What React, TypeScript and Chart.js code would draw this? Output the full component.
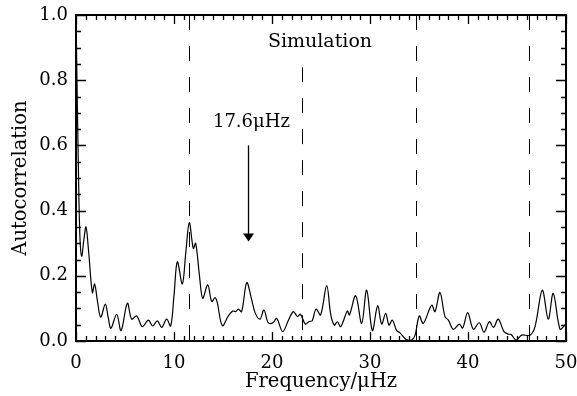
import React, { useEffect, useRef } from "react";
import { Chart, registerables } from "chart.js";

Chart.register(...registerables);

const freqs = [
  0, 0.1, 0.25, 0.4, 0.58, 0.8, 1.02, 1.3, 1.67, 1.9, 2.2, 2.52, 2.99, 3.3, 3.57, 4.15, 4.6, 5.24, 5.68, 6.19,
  6.77, 7.38, 7.82, 8.3, 8.74, 9.25, 9.66, 10.0, 10.34, 10.85, 11.2, 11.56, 11.97, 12.21, 12.6, 12.93, 13.44,
  13.85, 14.18, 14.4, 14.93, 15.55, 15.99, 16.3, 16.56, 16.9, 17.42, 17.9, 18.27, 18.78, 19.18, 19.62, 20.1,
  20.48, 21.09, 21.7, 22.18, 22.6, 22.9, 23.4, 23.8, 24.1, 24.5, 24.96, 25.58, 26.0, 26.36, 26.67, 27.01,
  27.69, 27.9, 28.54, 29.15, 29.66, 30.24, 30.78, 31.19, 31.6, 31.94, 32.28, 32.72, 33.06, 33.67, 34.25, 34.6,
  35.03, 35.44, 36.29, 36.63, 37.14, 37.65, 38.0, 38.5, 39.12, 39.46, 39.97, 40.54, 41.15, 41.63, 42.18, 42.6,
  43.09, 43.67, 44.12, 44.4, 44.9, 45.48, 46.33, 46.84, 47.58, 48.19, 48.7, 49.39, 49.9, 50,
];
const autocorr = [
  1.0, 0.8, 0.52, 0.32, 0.26, 0.31, 0.35, 0.27, 0.148, 0.175, 0.12, 0.073, 0.113, 0.07, 0.039, 0.082, 0.032,
  0.116, 0.067, 0.077, 0.044, 0.064, 0.046, 0.062, 0.042, 0.067, 0.046, 0.14, 0.243, 0.175, 0.27, 0.363, 0.284,
  0.3, 0.2, 0.131, 0.172, 0.121, 0.133, 0.12, 0.047, 0.077, 0.092, 0.09, 0.098, 0.09, 0.179, 0.13, 0.087, 0.067,
  0.095, 0.056, 0.056, 0.069, 0.029, 0.065, 0.09, 0.075, 0.082, 0.052, 0.06, 0.062, 0.098, 0.08, 0.17, 0.08,
  0.049, 0.059, 0.044, 0.092, 0.08, 0.139, 0.054, 0.156, 0.032, 0.108, 0.052, 0.085, 0.049, 0.064, 0.032,
  0.025, 0.005, 0.003, 0.018, 0.077, 0.054, 0.11, 0.09, 0.149, 0.075, 0.064, 0.036, 0.052, 0.04, 0.087, 0.036,
  0.056, 0.027, 0.059, 0.042, 0.067, 0.029, 0.021, 0.02, 0.003, 0.018, 0.018, 0.044, 0.156, 0.067, 0.146,
  0.036, 0.049, 0.05,
];

const dashedFreqs = [11.55, 23.1, 34.65, 46.2];
const dashedTops = [1.0, 0.84, 1.0, 1.0];

const arrowFreq = 17.6;
const arrowFrom = 0.6;
const arrowTo = 0.305;
const arrowLabel = "17.6\u03bcHz";
const arrowLabelPos = [17.9, 0.672];
const simLabel = "Simulation";
const simLabelPos = [24.9, 0.917];

const xTitle = "Frequency/\u03bcHz";
const yTitle = "Autocorrelation";

const FONT = "'DejaVu Serif', serif";

const overlayPlugin = {
  id: "overlay",
  afterDatasetsDraw(chart: any) {
    const { ctx, chartArea: a, scales } = chart;
    const xs = scales.x;
    const ys = scales.y;
    ctx.save();
    // dashed lines
    ctx.strokeStyle = "#000";
    ctx.lineWidth = 1;
    ctx.setLineDash([15, 16]);
    dashedFreqs.forEach((f, i) => {
      const px = Math.round(xs.getPixelForValue(f)) + 0.5;
      ctx.beginPath();
      ctx.moveTo(px, ys.getPixelForValue(dashedTops[i]));
      ctx.lineTo(px, ys.getPixelForValue(0));
      ctx.stroke();
    });
    ctx.setLineDash([]);

    // arrow
    const ax = Math.round(xs.getPixelForValue(arrowFreq)) + 0.5;
    const ay0 = ys.getPixelForValue(arrowFrom);
    const ay1 = ys.getPixelForValue(arrowTo);
    ctx.lineWidth = 1.3;
    ctx.beginPath();
    ctx.moveTo(ax, ay0);
    ctx.lineTo(ax, ay1 - 6);
    ctx.stroke();
    ctx.fillStyle = "#000";
    ctx.beginPath();
    ctx.moveTo(ax - 5.5, ay1 - 8);
    ctx.lineTo(ax + 5.5, ay1 - 8);
    ctx.lineTo(ax, ay1);
    ctx.closePath();
    ctx.fill();

    // labels
    ctx.font = `18px ${FONT}`;
    ctx.textAlign = "center";
    ctx.textBaseline = "middle";
    ctx.fillText(arrowLabel, xs.getPixelForValue(arrowLabelPos[0]), ys.getPixelForValue(arrowLabelPos[1]));
    ctx.font = `19px ${FONT}`;
    ctx.fillText(simLabel, xs.getPixelForValue(simLabelPos[0]), ys.getPixelForValue(simLabelPos[1]));

    // frame
    ctx.lineWidth = 2;
    ctx.strokeRect(a.left, a.top, a.right - a.left, a.bottom - a.top);

    // inward ticks on all four sides
    ctx.lineWidth = 1.3;
    const xMaj = 10, xMin = 1;
    for (let v = xs.min; v <= xs.max + 1e-9; v += xMin) {
      const major = Math.abs(v / xMaj - Math.round(v / xMaj)) < 1e-6;
      const len = major ? 9 : 5;
      const px = Math.round(xs.getPixelForValue(v)) + 0.5;
      ctx.beginPath();
      ctx.moveTo(px, a.bottom);
      ctx.lineTo(px, a.bottom - len);
      ctx.moveTo(px, a.top);
      ctx.lineTo(px, a.top + len);
      ctx.stroke();
    }
    const yMaj = 0.2, yMin = 0.05;
    for (let k = 0; k <= Math.round((ys.max - ys.min) / yMin); k++) {
      const v = ys.min + k * yMin;
      const major = Math.abs(v / yMaj - Math.round(v / yMaj)) < 1e-6;
      const len = major ? 10 : 5;
      const py = Math.round(ys.getPixelForValue(v)) + 0.5;
      ctx.beginPath();
      ctx.moveTo(a.left, py);
      ctx.lineTo(a.left + len, py);
      ctx.moveTo(a.right, py);
      ctx.lineTo(a.right - len, py);
      ctx.stroke();
    }
    ctx.restore();
  },
};

export default function App() {
  const ref = useRef<HTMLCanvasElement>(null);
  useEffect(() => {
    document.body.style.margin = "0";
    const points = freqs.map((f, i) => ({ x: f, y: autocorr[i] }));
    const chart = new Chart(ref.current as HTMLCanvasElement, {
      type: "scatter",
      data: {
        datasets: [
          {
            data: points,
            showLine: true,
            borderColor: "#000",
            borderWidth: 1.2,
            pointRadius: 0,
            tension: 0.35,
          } as any,
        ],
      },
      options: {
        responsive: false,
        animation: false,
        layout: { padding: { top: 15, right: 11, left: 0, bottom: 0 } },
        plugins: { legend: { display: false }, tooltip: { enabled: false } },
        scales: {
          x: {
            type: "linear",
            min: 0,
            max: 50,
            grid: { display: false, drawTicks: false },
            border: { display: false },
            ticks: { stepSize: 10, color: "#000", font: { family: FONT, size: 18 }, padding: 12, maxRotation: 0 },
            title: { display: true, text: xTitle, color: "#000", font: { family: FONT, size: 19.5 }, padding: { bottom: 2 } },
            afterFit: (s: any) => {
              s.height = 55;
              s.paddingLeft = 0;
              s.paddingRight = 0;
            },
          },
          y: {
            type: "linear",
            min: 0,
            max: 1,
            grid: { display: false, drawTicks: false },
            border: { display: false },
            ticks: {
              stepSize: 0.2,
              color: "#000",
              font: { family: FONT, size: 18 },
              padding: 8,
              callback: (v: any) => Number(v).toFixed(1),
            },
            title: { display: true, text: yTitle, color: "#000", font: { family: FONT, size: 19.5 }, padding: { top: 9 } },
            afterFit: (s: any) => {
              s.width = 76;
              s.paddingTop = 0;
              s.paddingBottom = 0;
            },
          },
        },
      },
      plugins: [overlayPlugin],
    });
    return () => chart.destroy();
  }, []);
  return <canvas ref={ref} width={577} height={396} style={{ display: "block" }} />;
}
